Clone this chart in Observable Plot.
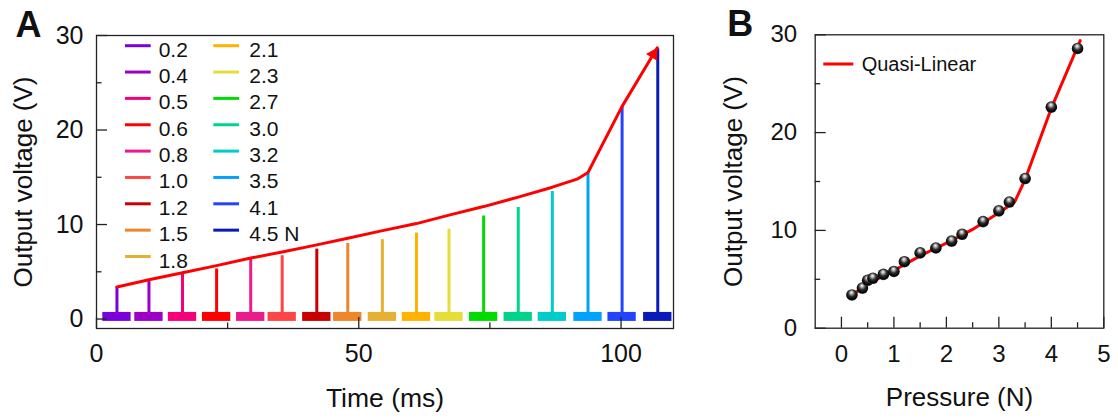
<!DOCTYPE html>
<html><head><meta charset="utf-8">
<script src="https://cdn.jsdelivr.net/npm/d3@7"></script>
<script src="https://cdn.jsdelivr.net/npm/@observablehq/plot@0.6"></script>
<style>
html,body{margin:0;padding:0;background:#fff;}
#wrap{position:relative;width:1118px;height:419px;overflow:hidden;}
#wrap svg{position:absolute;top:0;}
</style></head><body><div id="wrap"></div>
<script>
// ---------- Panel A data ----------
const pressureLabels = ["0.2","0.4","0.5","0.6","0.8","1.0","1.2","1.5","1.8","2.1","2.3","2.7","3.0","3.2","3.5","4.1","4.5 N"];
const traceColors = ["#7a00dc","#9c00c8","#f5007a","#ff0000","#ec1a8c","#ff4545","#c80000","#f0862a","#e5b033","#ffb200","#e5dd3a","#00dc00","#00d48a","#00cccc","#00a2ff","#2244ff","#0a1ab8"];
const spikeTimes = [3.9,10.0,16.4,22.9,29.4,35.4,42.0,47.9,54.5,61.0,67.2,73.8,80.4,86.9,93.7,100.2,107.0];
const spikePeaks = [3.4,4.0,4.8,5.3,6.3,6.7,7.4,8.0,8.4,9.1,9.5,10.9,11.8,13.5,15.5,22.5,28.6];
const envelopeTime = [3.9,10.0,16.4,22.9,29.4,35.4,42.0,47.9,54.1,61.0,67.2,73.8,80.4,86.9,91.6,93.7,100.2,106.9];
const envelopeVolt = [3.4,4.15,4.9,5.65,6.45,7.1,7.85,8.55,9.3,10.1,11.0,11.9,12.9,13.95,14.8,15.5,22.5,28.7];
const xTicksA = [0,50,100], xMinorA = [25,75];
const yTicksA = [0,10,20,30], yMinorA = [5,15,25];

// ---------- Panel B data ----------
const pressureB = [0.2,0.4,0.5,0.6,0.8,1.0,1.2,1.5,1.8,2.1,2.3,2.7,3.0,3.2,3.5,4.0,4.5];
const voltageB = [3.4,4.1,4.9,5.1,5.5,5.8,6.8,7.7,8.2,8.9,9.6,10.9,12.0,12.9,15.3,22.6,28.6];
const fitPressure = [0.2,0.5,1.0,1.5,2.0,2.5,3.0,3.3,3.5,4.0,4.55];
const fitVoltage = [3.4,4.5,5.9,7.4,8.7,10.1,11.8,12.9,15.2,22.5,29.4];
const xTicksB = [0,1,2,3,4,5], xMinorB = [0.5,1.5,2.5,3.5,4.5];
const yTicksB = [0,10,20,30], yMinorB = [5,15,25];

// ---------- styling ----------
const FONT = '"Liberation Sans", Arial, Helvetica, sans-serif';
const RED = "#ff0000";
const AX = "#222";
const H = 419;
const halfSeg = 2.7, baseLow = -0.25, baseHigh = 0.7;
const fmt = d3.format("d");

const traces = spikeTimes.map((t, i) => ({t, peak: spikePeaks[i], color: traceColors[i]}));
const envelope = envelopeTime.map((t, i) => ({t, v: envelopeVolt[i]}));

function frameTicks(fw, fh, xMaj, xMin, yMaj, yMin) {
  const o = {stroke: AX, strokeWidth: 1.3};
  return [
    Plot.tickY(yMaj, {y: d => d, insetRight: fw - 11, ...o}),
    Plot.tickY(yMin, {y: d => d, insetRight: fw - 5.5, ...o}),
    Plot.tickX(xMaj, {x: d => d, insetTop: fh - 11, ...o}),
    Plot.tickX(xMin, {x: d => d, insetTop: fh - 5.5, ...o})
  ];
}

// ---------- Panel A ----------
const mA = {left: 96, right: 27, top: 35, bottom: 91, width: 700};
const fwA = mA.width - mA.left - mA.right, fhA = H - mA.top - mA.bottom;
const plotA = Plot.plot({
  width: mA.width, height: H,
  marginLeft: mA.left, marginRight: mA.right, marginTop: mA.top, marginBottom: mA.bottom,
  style: {fontFamily: FONT, background: "transparent", overflow: "visible", color: "#111"},
  x: {domain: [0, 110]},
  y: {domain: [-1, 30]},
  color: {type: "identity"},
  marks: [
    Plot.rect(traces, {x1: d => d.t - halfSeg, x2: d => d.t + halfSeg, y1: baseLow, y2: baseHigh, fill: "color"}),
    Plot.ruleX(traces, {x: "t", y1: 0, y2: "peak", stroke: "color", strokeWidth: 3}),
    Plot.line(envelope, {x: "t", y: "v", stroke: RED, strokeWidth: 3}),
    Plot.dot(envelope.slice(-1), {x: "t", y: "v", symbol: "triangle", r: 4.8, fill: RED, rotate: 31, dx: -3.8, dy: 6.4}),
    Plot.frame({stroke: AX, strokeWidth: 1.3}),
    ...frameTicks(fwA, fhA, xTicksA, xMinorA, yTicksA, yMinorA),
    Plot.axisY({ticks: yTicksA, tickFormat: fmt, tickSize: 0, tickPadding: 13, fontSize: 25, label: null}),
    Plot.axisX({ticks: xTicksA, tickFormat: fmt, tickSize: 0, tickPadding: 16, fontSize: 25, label: null}),
    Plot.text(["Output voltage (V)"], {frameAnchor: "left", rotate: -90, textAnchor: "middle", lineAnchor: "top", dx: -82.7, fontSize: 26}),
    Plot.text(["Time (ms)"], {frameAnchor: "bottom", lineAnchor: "bottom", dy: 78, fontSize: 26.5}),
    Plot.text(["A"], {frameAnchor: "top-left", textAnchor: "start", lineAnchor: "bottom", dx: -81, dy: 1, fontSize: 36, fontWeight: "bold"})
  ]
});
plotA.style.left = "0px";

// legend A (two columns)
const legA = d3.select(plotA).append("g").attr("font-family", FONT).attr("font-size", 21)
  .attr("fill", "#111").attr("text-anchor", "start");
const legColX = [125, 213.3], legTextX = [158.7, 249.3];
pressureLabels.forEach((lab, i) => {
  const col = i < 9 ? 0 : 1, row = i < 9 ? i : i - 9;
  const y0 = 45.7 + row * 26.35;
  legA.append("line").attr("x1", legColX[col]).attr("x2", legColX[col] + 25.7)
    .attr("y1", y0).attr("y2", y0).attr("stroke", traceColors[i]).attr("stroke-width", 3);
  legA.append("text").attr("x", legTextX[col]).attr("y", y0 + 11).attr("text-anchor", "start").text(lab);
});

// ---------- Panel B ----------
const points = pressureB.map((p, i) => ({p, v: voltageB[i]}));
const fit = fitPressure.map((p, i) => ({p, v: fitVoltage[i]}));
const mB = {left: 114.7, right: 14.7, top: 34.3, bottom: 91.3, width: 418, offset: 700};
const fwB = mB.width - mB.left - mB.right, fhB = H - mB.top - mB.bottom;
const plotB = Plot.plot({
  width: mB.width, height: H,
  marginLeft: mB.left, marginRight: mB.right, marginTop: mB.top, marginBottom: mB.bottom,
  style: {fontFamily: FONT, background: "transparent", overflow: "visible", color: "#111"},
  x: {domain: [-0.5, 5]},
  y: {domain: [0, 30]},
  marks: [
    Plot.line(fit, {x: "p", y: "v", stroke: RED, strokeWidth: 3}),
    Plot.dot(points, {x: "p", y: "v", r: 5.8, fill: "url(#ballGrad)"}),
    Plot.frame({stroke: AX, strokeWidth: 1.3}),
    ...frameTicks(fwB, fhB, xTicksB, xMinorB, yTicksB, yMinorB),
    Plot.axisY({ticks: yTicksB, tickFormat: fmt, tickSize: 0, tickPadding: 18, fontSize: 24, label: null}),
    Plot.axisX({ticks: xTicksB, tickFormat: fmt, tickSize: 0, tickPadding: 16.5, fontSize: 24, label: null}),
    Plot.text(["Output voltage (V)"], {frameAnchor: "left", rotate: -90, textAnchor: "middle", lineAnchor: "top", dx: -91.7, fontSize: 26}),
    Plot.text(["Pressure (N)"], {frameAnchor: "bottom", lineAnchor: "bottom", dy: 77.3, fontSize: 26}),
    Plot.text(["B"], {frameAnchor: "top-left", textAnchor: "start", lineAnchor: "bottom", dx: -88, dy: 0.7, fontSize: 36, fontWeight: "bold"})
  ]
});
plotB.style.left = mB.offset + "px";

// sphere gradient
const defs = d3.select(plotB).insert("defs", ":first-child");
const g = defs.append("radialGradient").attr("id", "ballGrad").attr("cx", "50%").attr("cy", "40%").attr("r", "60%").attr("fx", "45%").attr("fy", "28%");
g.append("stop").attr("offset", "0%").attr("stop-color", "#ffffff");
g.append("stop").attr("offset", "18%").attr("stop-color", "#bdbdbd");
g.append("stop").attr("offset", "50%").attr("stop-color", "#2e2e2e");
g.append("stop").attr("offset", "85%").attr("stop-color", "#000000");
g.append("stop").attr("offset", "100%").attr("stop-color", "#3a3a3a");

// legend B
const legB = d3.select(plotB).append("g").attr("font-family", FONT).attr("font-size", 20)
  .attr("fill", "#111").attr("text-anchor", "start");
legB.append("line").attr("x1", 823.3 - mB.offset).attr("x2", 853.3 - mB.offset).attr("y1", 64).attr("y2", 64)
  .attr("stroke", RED).attr("stroke-width", 3);
legB.append("text").attr("x", 861.7 - mB.offset).attr("y", 71).attr("text-anchor", "start").text("Quasi-Linear");

document.getElementById("wrap").append(plotA, plotB);
</script></body></html>
